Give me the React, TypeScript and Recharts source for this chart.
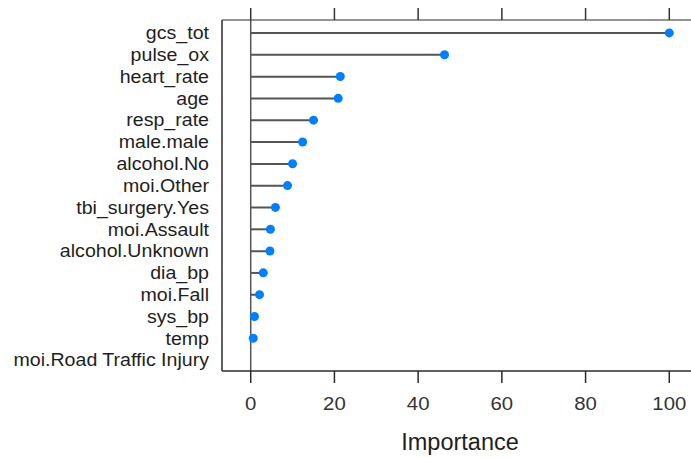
import {
  Bar,
  ComposedChart,
  Line,
  ReferenceLine,
  XAxis,
  YAxis,
} from "recharts";

const features = [
  "gcs_tot",
  "pulse_ox",
  "heart_rate",
  "age",
  "resp_rate",
  "male.male",
  "alcohol.No",
  "moi.Other",
  "tbi_surgery.Yes",
  "moi.Assault",
  "alcohol.Unknown",
  "dia_bp",
  "moi.Fall",
  "sys_bp",
  "temp",
  "moi.Road Traffic Injury",
];

const importance: (number | null)[] = [
  100, 46.3, 21.4, 20.9, 15.0, 12.4, 10.0, 8.8, 5.9, 4.7, 4.6, 3.0, 2.1, 0.9,
  0.6, null,
];

const xTicks = [0, 20, 40, 60, 80, 100];
const xDomain = [-6.86, 106.86];

const rows = features.map((name, i) => ({ name, value: importance[i] }));

const FONT = '"Liberation Sans", Arial, Helvetica, sans-serif';
const INK = "#2b2b2b";

function FeatureTick({ x, y, payload }: any) {
  return (
    <g transform={`translate(${x},${y}) scale(1.12,1)`}>
      <text
        x={0}
        y={0}
        dy="0.36em"
        textAnchor="end"
        fontSize={17.5}
        fontFamily={FONT}
        fill="#1e1e1e"
      >
        {payload.value}
      </text>
    </g>
  );
}

function NumberTick({ x, y, payload }: any) {
  return (
    <g transform={`translate(${x},${y}) scale(1.1,1)`}>
      <text
        x={0}
        y={0}
        dy="0.72em"
        textAnchor="middle"
        fontSize={18.5}
        fontFamily={FONT}
        fill="#333"
      >
        {payload.value}
      </text>
    </g>
  );
}

// top axis: outward tick marks only, no labels
function TopTick(props: any) {
  const { x, y } = props;
  return (
    <g>
      <line x1={x} x2={x} y1={y - 12} y2={y} stroke="#333" strokeWidth={1.5} />
    </g>
  );
}

function AxisTitle({ viewBox }: any) {
  const cx = viewBox.x + viewBox.width / 2;
  return (
    <text
      x={cx}
      y={viewBox.y + 79}
      textAnchor="middle"
      fontSize={23.5}
      fontFamily={FONT}
      fill="#1e1e1e"
    >
      Importance
    </text>
  );
}

export default function App() {
  return (
    <div
      style={{
        position: "absolute",
        left: 0,
        top: 0,
        width: 691,
        height: 458,
        overflow: "hidden",
        background: "#fff",
      }}
    >
      <ComposedChart
        width={720}
        height={458}
        data={rows}
        layout="vertical"
        margin={{ top: 0, right: 22, bottom: 0, left: 0 }}
      >
        <XAxis
          xAxisId="bottom"
          type="number"
          orientation="bottom"
          domain={xDomain}
          ticks={xTicks}
          allowDataOverflow
          height={87}
          tickSize={12}
          tickMargin={14}
          stroke={INK}
          strokeWidth={1.5}
          tick={<NumberTick />}
          label={<AxisTitle />}
        />
        <XAxis
          xAxisId="top"
          type="number"
          orientation="top"
          domain={xDomain}
          ticks={xTicks}
          allowDataOverflow
          height={20}
          tickSize={0}
          tickMargin={0}
          tickLine={false}
          stroke={INK}
          tick={<TopTick />}
        />
        <YAxis
          type="category"
          dataKey="name"
          width={222}
          interval={0}
          padding={{ top: 2, bottom: 0 }}
          tickLine={false}
          tickSize={0}
          tickMargin={13}
          stroke={INK}
          strokeWidth={1.5}
          tick={<FeatureTick />}
        />
        <ReferenceLine
          xAxisId="bottom"
          x={0}
          stroke="#555"
          strokeWidth={1.5}
        />
        <Bar
          xAxisId="bottom"
          dataKey="value"
          barSize={2}
          fill="#555"
          isAnimationActive={false}
        />
        <Line
          xAxisId="bottom"
          dataKey="value"
          stroke="none"
          dot={{ r: 4.5, fill: "#0080ff", stroke: "none" }}
          activeDot={false}
          isAnimationActive={false}
        />
        <Line
          xAxisId="top"
          dataKey="value"
          stroke="none"
          dot={false}
          activeDot={false}
          legendType="none"
          isAnimationActive={false}
        />
      </ComposedChart>
    </div>
  );
}
